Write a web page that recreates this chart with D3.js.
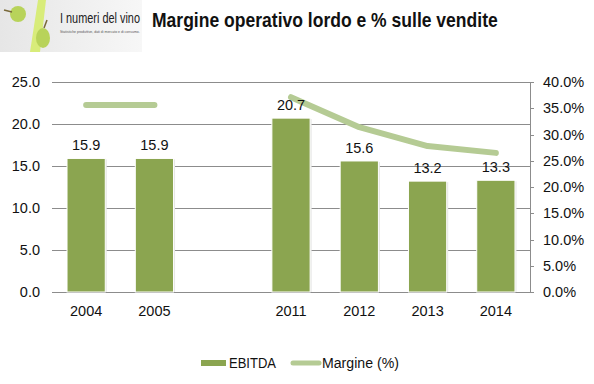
<!DOCTYPE html>
<html><head><meta charset="utf-8">
<script src="https://cdn.jsdelivr.net/npm/d3@7"></script>
<style>body{margin:0;background:#fff}svg{display:block}</style>
</head><body>
<svg id="c" width="594" height="384"></svg>
<script>
const categories = ["2004","2005","","2011","2012","2013","2014"];
const ebitda = [15.9, 15.9, null, 20.7, 15.6, 13.2, 13.3];
const margine = [35.6, 35.6, null, 37.1, 31.4, 27.8, 26.5];
const leftTicks = [0,5,10,15,20,25];
const rightTicks = [0,5,10,15,20,25,30,35,40];

const svg = d3.select("#c");
const L = 52, R = 530, T = 82, B = 292;
const x = d3.scaleBand().domain(categories.map((d,i)=>i)).range([L,R]).paddingInner(0.44).paddingOuter(0.22);
const yL = d3.scaleLinear().domain([0,25]).range([B,T]);
const yR = d3.scaleLinear().domain([0,40]).range([B,T]);

// condensed text via horizontal scale
function fitText(x0, y0, width, txt, size, weight, fill) {
  const t = svg.append("text").attr("x",0).attr("y",0)
    .attr("font-family","Liberation Sans, Arial, sans-serif").attr("font-size",size)
    .attr("font-weight",weight||"normal").attr("fill",fill||"#111").text(txt);
  const w = t.node().getComputedTextLength();
  t.attr("transform",`translate(${x0},${y0}) scale(${width/w},1)`);
  return t;
}

// logo
const defs = svg.append("defs");
const g1 = defs.append("linearGradient").attr("id","lg").attr("x1",0).attr("x2",1);
g1.append("stop").attr("offset","0").attr("stop-color","#e6e6e6");
g1.append("stop").attr("offset","1").attr("stop-color","#f7f7f7");
svg.append("rect").attr("x",0).attr("y",0).attr("width",142).attr("height",52).attr("fill","url(#lg)");
svg.append("path").attr("d","M30,52 L40,52 L46,0 L38,0 Z").attr("fill","#d8ec7a");
svg.append("circle").attr("cx",18).attr("cy",14).attr("r",8).attr("fill","#b8d35a");
svg.append("path").attr("d","M4,10 L12,12").attr("stroke","#7a6a3a").attr("stroke-width",1.5);
svg.append("ellipse").attr("cx",43).attr("cy",38).attr("rx",7).attr("ry",10).attr("fill","#b8d35a");
svg.append("path").attr("d","M44,28 L47,20").attr("stroke","#7a6a3a").attr("stroke-width",1.5);
fitText(60, 23, 80, "I numeri del vino", 15, "normal", "#222");
fitText(60, 33, 80, "Statistiche produttive, dati di mercato e di consumo.", 3.6, "normal", "#555");

// title
fitText(152, 27, 346, "Margine operativo lordo e % sulle vendite", 19.5, "bold", "#111");

const font = "Liberation Sans, Arial, sans-serif";
// gridlines
svg.append("g").selectAll("line").data(leftTicks).join("line")
  .attr("x1",L).attr("x2",R).attr("y1",d=>yL(d)).attr("y2",d=>yL(d))
  .attr("stroke","#8c8c8c").attr("stroke-width",1).attr("shape-rendering","crispEdges");
// left labels
svg.append("g").selectAll("text").data(leftTicks).join("text")
  .attr("x",40).attr("y",d=>yL(d)+5).attr("text-anchor","end").attr("font-family",font).attr("font-size",14.5).attr("fill","#111")
  .text(d=>d.toFixed(1));
// right axis
svg.append("line").attr("x1",R).attr("x2",R).attr("y1",T).attr("y2",B).attr("stroke","#8c8c8c").attr("shape-rendering","crispEdges");
svg.append("g").selectAll("line").data(rightTicks).join("line")
  .attr("x1",R).attr("x2",R+4).attr("y1",d=>Math.round(yR(d))+0.5).attr("y2",d=>Math.round(yR(d))+0.5).attr("stroke","#8c8c8c");
svg.append("g").selectAll("text").data(rightTicks).join("text")
  .attr("x",543).attr("y",d=>yR(d)+5).attr("font-family",font).attr("font-size",14.5).attr("fill","#111")
  .text(d=>d.toFixed(1)+"%");

// bars
const data = categories.map((c,i)=>({c,i,v:ebitda[i],m:margine[i]}));
svg.append("g").selectAll("rect").data(data.filter(d=>d.v!=null)).join("rect")
  .attr("x",d=>x(d.i)+1.5).attr("y",d=>yL(d.v)+1).attr("width",x.bandwidth()).attr("height",d=>B-yL(d.v)-1)
  .attr("fill","#e6e6e6");
svg.append("g").selectAll("rect").data(data.filter(d=>d.v!=null)).join("rect")
  .attr("x",d=>x(d.i)).attr("y",d=>yL(d.v)).attr("width",x.bandwidth()).attr("height",d=>B-yL(d.v))
  .attr("fill","#8ba550").attr("stroke","#fff").attr("stroke-width",1);
// x labels
svg.append("g").selectAll("text").data(data.filter(d=>d.c)).join("text")
  .attr("x",d=>x(d.i)+x.bandwidth()/2).attr("y",316).attr("text-anchor","middle").attr("font-family",font).attr("font-size",14.5).attr("fill","#111")
  .text(d=>d.c);

// line
const line = d3.line().defined(d=>d.m!=null).x(d=>x(d.i)+x.bandwidth()/2).y(d=>yR(d.m));
svg.append("path").datum(data).attr("d",line).attr("fill","none").attr("stroke","#b5cb94").attr("stroke-width",6).attr("stroke-linecap","round").attr("stroke-linejoin","round");

// value labels
svg.append("g").selectAll("text").data(data.filter(d=>d.v!=null)).join("text")
  .attr("x",d=>x(d.i)+x.bandwidth()/2).attr("y",d=>yL(d.v)-8).attr("text-anchor","middle").attr("font-family",font).attr("font-size",14.5).attr("fill","#111")
  .text(d=>d.v.toFixed(1));

// legend
svg.append("rect").attr("x",201).attr("y",360).attr("width",25).attr("height",6).attr("fill","#8ba550");
fitText(229, 368, 47, "EBITDA", 15);
svg.append("line").attr("x1",293).attr("x2",319).attr("y1",363).attr("y2",363).attr("stroke","#b5cb94").attr("stroke-width",5).attr("stroke-linecap","round");
fitText(322, 368, 77, "Margine (%)", 15);
</script>
</body></html>
